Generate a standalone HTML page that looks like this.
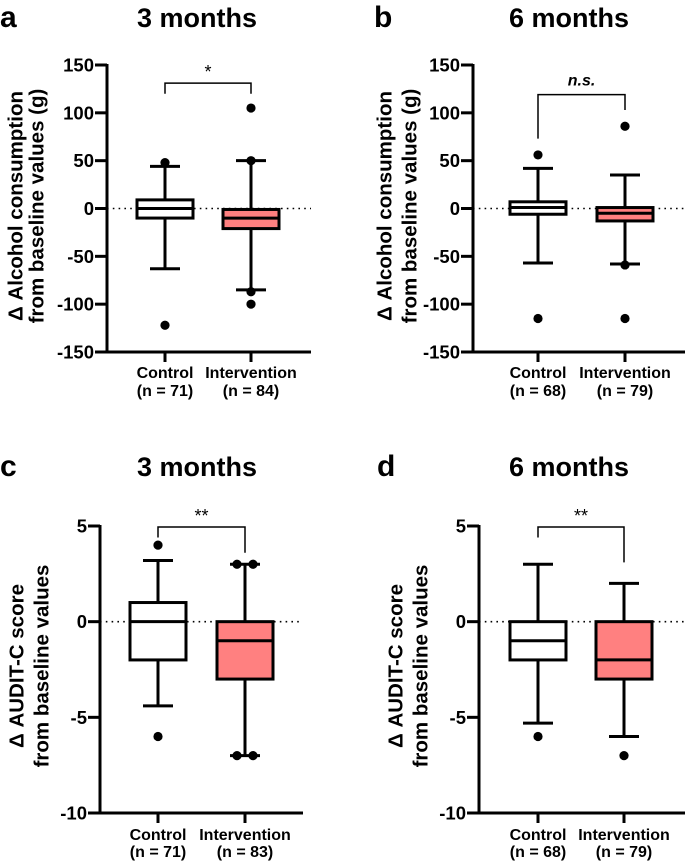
<!DOCTYPE html>
<html><head><meta charset="utf-8"><style>
html,body{margin:0;padding:0;background:#fff;}
svg{display:block;font-family:"Liberation Sans",Arial,sans-serif;}
</style></head><body>
<svg id="fig" width="685" height="862" viewBox="0 0 685 862" xmlns="http://www.w3.org/2000/svg"></svg>
<script>
// ---- data ----
const groups = ["Control", "Intervention"];
const nA = ["(n = 71)", "(n = 84)"];
const nB = ["(n = 68)", "(n = 79)"];
const nC = ["(n = 71)", "(n = 83)"];
const nD = ["(n = 68)", "(n = 79)"];
// [whiskerLow, q1, median, q3, whiskerHigh]
const boxA = [[-63, -10, 0, 9, 44], [-85, -21, -10, -1, 50]];
const outA = [[48, -122], [105, 50, -87, -100]];
const boxB = [[-57, -6, 1, 7, 42], [-58, -13, -5, 1, 35]];
const outB = [[56, -115], [86, -59, -115]];
const boxC = [[-4.4, -2, 0, 1, 3.2], [-7, -3, -1, 0, 3]];
const outC = [[4, -6], [3, 3, -7, -7]];
const boxD = [[-5.3, -2, -1, 0, 3], [-6, -3, -2, 0, 2]];
const outD = [[-6], [-7]];
const ticksAlc = [150, 100, 50, 0, -50, -100, -150];
const ticksAud = [5, 0, -5, -10];
const sigA = ["*", 131, 120, 120];
const sigB = ["n.s.", 119, 73, 103];
const sigC = ["**", 4.95, 4.4, 3.6];
const sigD = ["**", 4.95, 4.4, 3.1];

const NS = "http://www.w3.org/2000/svg";
const svg = document.getElementById("fig");
function mk(tag, attrs, parent) {
  const e = document.createElementNS(NS, tag);
  for (const k in attrs) e.setAttribute(k, attrs[k]);
  (parent || svg).appendChild(e);
  return e;
}
function txt(x, y, s, size, anchor, parent, extra) {
  const t = mk("text", Object.assign({x: x, y: y, "font-size": size, "font-weight": "bold", "text-anchor": anchor, fill: "#000"}, extra || {}), parent);
  t.textContent = s;
  return t;
}

function panel(cfg) {
  const g = mk("g", {});
  
  
  const y = v => cfg.yTop + (cfg.max - v) / (cfg.max - cfg.min) * (cfg.yBot - cfg.yTop);
  const L = txt(cfg.lx, cfg.ly, cfg.letter, 30, "start", g);
  
  
  const T = txt(cfg.tx, cfg.ty, cfg.title, 27, "middle", g);
  
  
  const yt = mk("g", {transform: "rotate(-90)"}, g);
  
  
  txt(-cfg.ycy, cfg.y1x, cfg.ytitle[0], 20.5, "middle", yt, {"dominant-baseline": "central"});
  txt(-cfg.ycy, cfg.y2x, cfg.ytitle[1], 20.5, "middle", yt, {"dominant-baseline": "central"});
  const z = mk("line", {x1: cfg.ax, x2: cfg.right, y1: y(0), y2: y(0), stroke: "#000", "stroke-width": 1.6, "stroke-dasharray": "1.6 4.2"}, g);
  
  
  const ya = mk("line", {x1: cfg.ax, x2: cfg.ax, y1: cfg.yTop - 1, y2: cfg.yBot + 1.5, stroke: "#000", "stroke-width": 3}, g);
  
  
  const xa = mk("line", {x1: cfg.ax, x2: cfg.right, y1: cfg.yBot, y2: cfg.yBot, stroke: "#000", "stroke-width": 3}, g);
  
  
  cfg.ticks.forEach(t => {
    const tl = mk("line", {x1: cfg.ax - 12, x2: cfg.ax, y1: y(t), y2: y(t), stroke: "#000", "stroke-width": 3}, g);
    
    
    const lab = txt(cfg.ax - 13, y(t) + 6.5, String(t), 18.5, "end", g);
    
    
  });
  cfg.cx.forEach((cx, i) => {
    const tk = mk("line", {x1: cx, x2: cx, y1: cfg.yBot, y2: cfg.yBot + 10, stroke: "#000", "stroke-width": 3}, g);
    
    
    const l1 = txt(cx, cfg.xl1, groups[i], 16, "middle", g);
    
    
    const l2 = txt(cx, cfg.xl2, cfg.n[i], 16, "middle", g);
    
    
    const b = cfg.box[i];
    const bg = mk("g", {}, g);
    
    
    const w = 56, cw = 30;
    mk("line", {x1: cx, x2: cx, y1: y(b[4]), y2: y(b[0]), stroke: "#000", "stroke-width": 3}, bg);
    mk("line", {x1: cx - cw / 2, x2: cx + cw / 2, y1: y(b[4]), y2: y(b[4]), stroke: "#000", "stroke-width": 3}, bg);
    mk("line", {x1: cx - cw / 2, x2: cx + cw / 2, y1: y(b[0]), y2: y(b[0]), stroke: "#000", "stroke-width": 3}, bg);
    const r = mk("rect", {x: cx - w / 2, y: y(b[3]), width: w, height: y(b[1]) - y(b[3]), fill: i ? "#ff8080" : "#fff", stroke: "#000", "stroke-width": 3}, bg);
    
    
    const m = mk("line", {x1: cx - w / 2, x2: cx + w / 2, y1: y(b[2]), y2: y(b[2]), stroke: "#000", "stroke-width": 3}, bg);
    
    
    const outs = cfg.out[i];
    const seen = {};
    outs.forEach(v => {
      seen[v] = (seen[v] || 0) + 1;
      const dup = outs.filter(o => o === v).length > 1;
      const off = dup ? (seen[v] === 1 ? -8 : 8) : 0;
      const c = mk("circle", {cx: cx + off, cy: y(v), r: 4.6, fill: "#000"}, bg);
      
      
    });
  });
  const s = cfg.sig;
  const br = mk("path", {d: `M${cfg.cx[0]},${y(s[2])} V${y(s[1])} H${cfg.cx[1]} V${y(s[3])}`, fill: "none", stroke: "#000", "stroke-width": 1.5}, g);
  
  
  const st = mk("text", {x: (cfg.cx[0] + cfg.cx[1]) / 2, y: y(s[1]) - (s[0] === "n.s." ? 9 : 5), "font-size": s[0] === "n.s." ? 16 : 18, "font-weight": s[0] === "n.s." ? "bold" : "normal", "font-style": s[0] === "n.s." ? "italic" : "normal", "text-anchor": "middle", fill: "#000"}, g);
  st.textContent = s[0];
  
  
}

const alcT = ["Δ Alcohol consumption", "from baseline values (g)"];
const audT = ["Δ AUDIT-C score", "from baseline values"];
panel({letter: "a", lx: 0, ly: 27, title: "3 months", tx: 197, ty: 27, ax: 107, right: 311, yTop: 65, yBot: 352, min: -150, max: 150, ticks: ticksAlc, cx: [165, 251], box: boxA, out: outA, n: nA, sig: sigA, xl1: 378, xl2: 396, ytitle: alcT, ycy: 206, y1x: 16, y2x: 37});
panel({letter: "b", lx: 374, ly: 27, title: "6 months", tx: 569, ty: 27, ax: 473, right: 685, yTop: 65, yBot: 352, min: -150, max: 150, ticks: ticksAlc, cx: [538, 625], box: boxB, out: outB, n: nB, sig: sigB, xl1: 378, xl2: 396, ytitle: alcT, ycy: 206, y1x: 385, y2x: 410});
panel({letter: "c", lx: 0, ly: 476, title: "3 months", tx: 197, ty: 476, ax: 100, right: 303, yTop: 526, yBot: 813, min: -10, max: 5, ticks: ticksAud, cx: [158, 245], box: boxC, out: outC, n: nC, sig: sigC, xl1: 840, xl2: 857, ytitle: audT, ycy: 666, y1x: 17, y2x: 42});
panel({letter: "d", lx: 377, ly: 476, title: "6 months", tx: 569, ty: 476, ax: 479, right: 685, yTop: 526, yBot: 813, min: -10, max: 5, ticks: ticksAud, cx: [538, 624], box: boxD, out: outD, n: nD, sig: sigD, xl1: 840, xl2: 857, ytitle: audT, ycy: 666, y1x: 396, y2x: 421});
</script>
</body></html>
